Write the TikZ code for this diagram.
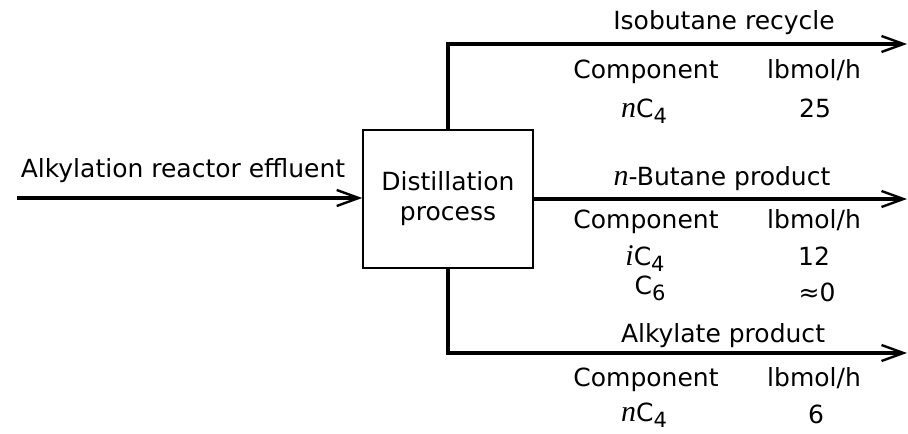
\documentclass[tikz,border=0pt]{standalone}
\usepackage{fontspec}
\setmainfont{DejaVu Sans}
\newfontfamily\itsym{Liberation Serif}[Scale=1.2]
\newcommand{\slsym}[1]{{\itsym\itshape #1}}
\newcommand{\lowsub}[1]{\raisebox{-0.45ex}{\fontsize{10.5}{10.5}\selectfont #1}}
\usetikzlibrary{positioning,calc,arrows.meta}

\begin{document}
\begin{tikzpicture}[x=0.5pt,y=-0.5pt,font=\fontsize{12.5}{15}\selectfont]
		\tikzstyle{stream}=[line width=2pt,-{Straight Barb[length=11pt,width=8pt,line width=1.2pt]}];
		\tikzstyle{unit_box}=[draw, line width=0.8pt, minimum width=85pt, minimum height=69pt, align=center, inner sep=2pt];
		\tikzstyle{txt}=[anchor=base, inner sep=0pt];

		\useasboundingbox (0,0) rectangle (908,433);

		\node[unit_box] (dist) at (448,199) {Distillation\\process};

		\coordinate (feed) at (17,198);
		\coordinate (top) at (907,44);
		\coordinate (mid) at (907,199);
		\coordinate (bot) at (907,353);

		\draw[stream] (feed) -- (feed -| dist.west);
		\draw[stream] (dist.north) |- (top);
		\draw[stream] (dist.east) -- (mid);
		\draw[stream] (dist.south) |- (bot);

		\node[txt] (feed_lbl) at (183,177) {Alkylation reactor effluent};
		\node[txt] (top_lbl) at (724,30) {Isobutane recycle};
		\node[txt] (mid_lbl) at (722,185) {\slsym{n}-Butane product};
		\node[txt] (bot_lbl) at (723,342) {Alkylate product};

		% table headers
		\foreach \y/\s in {78/top,228/mid,386/bot}{
			\node[txt] (\s_comp) at (646,\y) {Component};
			\node[txt] (\s_unit) at (814,\y) {lbmol/h};
		}

		\node[txt] (top_c1) at (644,117) {\slsym{n}C\lowsub{4}};
		\node[txt] (top_v1) at (815,117) {25};
		\node[txt] (mid_c1) at (645,265) {\slsym{i}C\lowsub{4}};
		\node[txt] (mid_v1) at (814,265) {12};
		\node[txt] (mid_c2) at (650,294) {C\lowsub{6}};
		\node[txt] (mid_v2) at (817,301) {≈0};
		\node[txt] (bot_c1) at (644,421) {\slsym{n}C\lowsub{4}};
		\node[txt] (bot_v1) at (816,423) {6};
\end{tikzpicture}
\end{document}
